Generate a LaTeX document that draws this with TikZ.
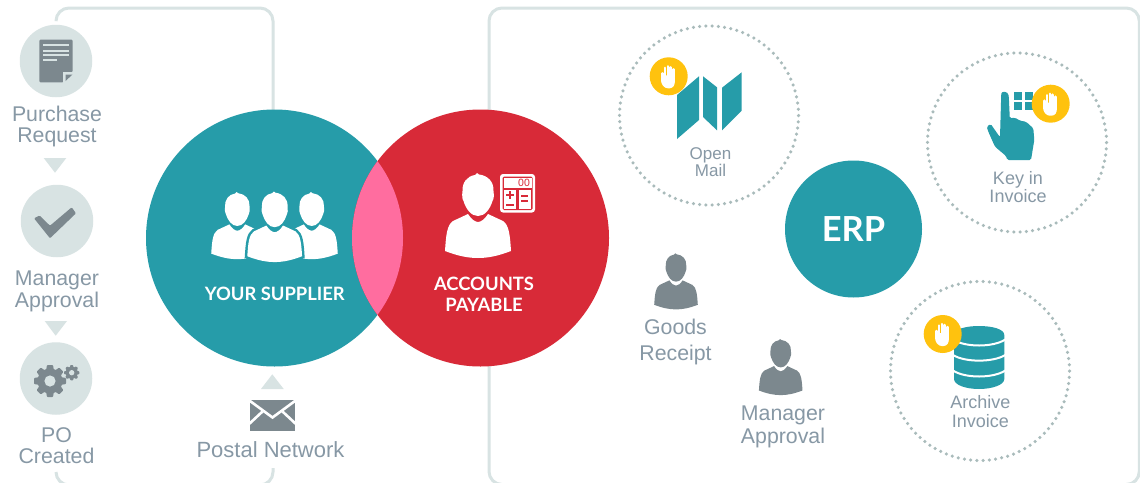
\documentclass[tikz,border=0pt]{standalone}
\usepackage{fontspec}
\setmainfont{Liberation Sans}
\newfontfamily\headfont{Lato}
\definecolor{tealc}{HTML}{269CA9}
\definecolor{redc}{HTML}{D82A38}
\definecolor{pinkc}{HTML}{FF6D9F}
\definecolor{lightc}{HTML}{D8E3E3}
\definecolor{greyc}{HTML}{7C888E}
\definecolor{textc}{HTML}{8798A5}
\definecolor{dotc}{HTML}{A9BBBB}
\definecolor{yellowc}{HTML}{FFC20E}
\newcommand{\personshape}{
  (-3,2) -- (-1,0) -- (1,1.5) .. controls (10,2.5) and (16,9) .. (15.5,18)
  .. controls (16,22) and (16,26) .. (14.5,28)
  .. controls (12,36) and (7,43) .. (0,43)
  .. controls (-7,43) and (-12,36) .. (-14.5,28)
  .. controls (-16,26) and (-16,22) .. (-15.5,18)
  .. controls (-16,10) and (-11,3) .. (-3,2) -- cycle
  (-10,41) .. controls (-7,46) and (-3,49) .. (0,49)
  .. controls (3,49) and (7,46) .. (10,41) -- (25,48)
  .. controls (31,52) and (32,62) .. (33,78)
  .. controls (20,83) and (10,85) .. (0,85)
  .. controls (-10,85) and (-20,83) .. (-33,78)
  .. controls (-32,62) and (-31,52) .. (-25,48) -- cycle
}
\newcommand{\gearicon}[3]{
  \begin{scope}[shift={(#1,#2)},scale=#3]
    \foreach \a in {0,45,...,315}{\fill[greyc,rotate=\a,rounded corners=0.8pt] (-3,-16) -- (3,-16) -- (4.2,-9) -- (-4.2,-9) -- cycle;}
    \fill[greyc] (0,0) circle[radius=12.5];
    \fill[lightc] (0,0) circle[radius=5.6];
  \end{scope}
}
\newcommand{\handicon}[2]{
  \begin{scope}[shift={(#1,#2)}]
    \fill[white,rounded corners=2.5pt] (-7.6,-1) -- (-7.6,7) -- (-3.5,12) -- (3.5,12) -- (6.2,8) -- (6.2,-1) -- cycle;
    \foreach \x/\t in {-3.7/-8.5,-0.9/-10,1.9/-9,4.9/-7,-6.4/-3}{\draw[white,line width=2.5pt,line cap=round] (\x,1) -- (\x,\t);}
  \end{scope}
}
\tikzset{
  x=1pt,y=-1pt,
  framerule/.style={draw=lightc,line width=3pt,rounded corners=13pt},
  stepdisc/.style={circle,fill=lightc,minimum size=72.5pt,inner sep=0pt},
  bigdisc/.style={circle,minimum size=257pt,inner sep=0pt},
  dotring/.style={circle,draw=dotc,line width=3.5pt,line cap=round,dash pattern=on 0pt off 6.248pt,minimum size=179pt,inner sep=0pt},
  badge/.style={circle,fill=yellowc,minimum size=38pt,inner sep=0pt},
  tri/.style={fill=lightc},
  lab/.style={text=textc,anchor=base,inner sep=0pt,font=\fontsize{21.3}{24}\selectfont},
  smalllab/.style={text=textc,anchor=base,inner sep=0pt,font=\fontsize{18}{20}\selectfont},
  headlab/.style={text=white,anchor=base,inner sep=0pt,font=\headfont\bfseries\fontsize{18.4}{20}\selectfont},
  tealshape/.style={fill=tealc}
}
\begin{document}
\begin{tikzpicture}
\useasboundingbox (0,0) rectangle (1140,482);
\clip (0,0) rectangle (1140,482);
\fill[white] (0,0) rectangle (1140,482);
% frames
\coordinate (ftl) at (56,20);
\coordinate (ftr) at (273,125);
\coordinate (fbl) at (56,472);
\coordinate (fbr) at (273,468);
\draw[framerule] (ftl) -- (56,8) -- (273,8) -- (ftr);
\draw[framerule] (fbl) -- (56,485) -- (273,485) -- (fbr);
\draw[framerule] (489,8) rectangle (1139.3,484.5);
% venn
\node[bigdisc,fill=tealc] (supplier) at (274.5,238) {};
\node[bigdisc,fill=redc] (payable) at (480.5,238) {};
\begin{scope}
  \clip (274.5,238) circle[radius=128.5];
  \fill[pinkc] (480.5,238) circle[radius=128.5];
\end{scope}
% step discs
\node[stepdisc] (pr) at (56,61) {};
\node[stepdisc] (ma) at (57,221) {};
\node[stepdisc] (po) at (56,378.5) {};
\fill[tri] (43.7,158) -- (66.3,158) -- (55,172.7) -- cycle;
\fill[tri] (44.7,321) -- (67,321) -- (55.7,335.7) -- cycle;
\fill[tri] (261,389) -- (283.7,389) -- (272.3,374.3) -- cycle;
% document icon
\fill[greyc,rounded corners=1.2pt] (39.3,39.7) -- (72.7,39.7) -- (72.7,71.5) -- (63.5,82.3) -- (39.3,82.3) -- cycle;
\foreach \yy/\xx in {45.3/69,50.7/69,55.3/69,60.3/56.7}{\draw[lightc,line width=1.8pt] (43.3,\yy) -- (\xx,\yy);}
\fill[lightc] (63,82.8) -- (63,72) -- (73.2,72) -- (73.2,82.8) -- cycle;
\fill[greyc] (65.5,81) -- (65.5,74.5) -- (72.5,74.5) -- cycle;
% check icon
\fill[greyc,rounded corners=1pt] (34,218.3) -- (39.5,215.5) -- (50,225.7) -- (71.7,207.3) -- (76,213.3) -- (50,238.3) -- cycle;
% gears
\gearicon{50}{381}{1}
\gearicon{71.7}{372.7}{0.48}
% envelope
\fill[greyc] (250,400) rectangle (295,431);
\draw[white,line width=2.6pt] (248,399.5) -- (272.5,417.5) -- (297,399.5);
\draw[white,line width=2.6pt] (248,425) -- (262.5,411.5);
\draw[white,line width=2.6pt] (297,425) -- (282.5,411.5);
% supplier persons
\fill[white,shift={(237.3,192)},scale=0.79] \personshape;
\fill[white,shift={(311.7,192)},scale=0.79] \personshape;
\fill[white,shift={(274.7,191.5)},scale=0.83,preaction={draw=tealc,line width=5pt}] \personshape;
% payable person and calculator
\fill[white,shift={(478,173)}] \personshape;
\fill[white,rounded corners=3pt] (500,174) rectangle (535,212.5);
\fill[redc,rounded corners=1.5pt] (502.5,176.5) rectangle (532.5,210);
\fill[white] (504,178) rectangle (531.5,187.5);
\fill[white] (504,190) rectangle (516,209);
\fill[white] (518.5,190) rectangle (531,209);
\node[inner sep=0pt,text=redc,font=\fontsize{10.5}{10}\selectfont] (calcdigits) at (524,183.2) {00};
\draw[redc,line width=2pt] (506,195) -- (514,195) (510,191) -- (510,199);
\draw[redc,line width=2pt] (506,204.5) -- (514,204.5);
\draw[redc,line width=2pt] (521,196) -- (528,196) (521,200.7) -- (528,200.7);
% text in venn
\node[headlab] (t1) at (274.8,300.7) {YOUR SUPPLIER};
\node[headlab] (t2) at (484,290) {ACCOUNTS};
\node[headlab] (t3) at (484,311.7) {PAYABLE};
% left labels
\node[lab] (l1) at (57,121.5) {Purchase};
\node[lab] (l2) at (57,142.5) {Request};
\node[lab] (l3) at (57,285.7) {Manager};
\node[lab] (l4) at (57,307.5) {Approval};
\node[lab] (l5) at (56.5,442.4) {PO};
\node[lab] (l6) at (56.5,463.4) {Created};
\node[lab,font=\fontsize{22}{24}\selectfont] (l7) at (270.5,457.5) {Postal Network};
% right part
\node[dotring] (rmail) at (709,115.5) {};
\node[dotring] (rkey) at (1017,142.5) {};
\node[dotring] (rarc) at (980,371) {};
\node[circle,fill=tealc,minimum size=137pt,inner sep=0pt,text=white,font=\headfont\bfseries\fontsize{34.5}{36}\selectfont] (erp) at (853.5,229) {ERP};
% map icon
\fill[tealshape] (677,95) -- (699,76.3) -- (699,120) -- (677,139) -- cycle;
\fill[tealshape] (703,76.3) -- (717,87.3) -- (717,130.3) -- (703,117) -- cycle;
\fill[tealshape] (722,87.7) -- (741.7,72.3) -- (741.7,110.7) -- (722,130.3) -- cycle;
\node[badge] (b1) at (668.7,76.3) {};
\handicon{668.7}{76.3}
% pointer icon
\fill[tealshape,rounded corners=1.5pt] (1001.2,95) .. controls (1001.5,91) and (1008,91) .. (1008.8,96.7) -- (1009.8,118.3) -- (1015,117.7) -- (1020,120.7) -- (1026,121.7) -- (1033.3,128.3) -- (1034.3,140) -- (1031,160) -- (1007.3,160) -- (1006,156) -- (995,146.7) -- (988.3,131.7) -- (986.7,126.7) -- (990.7,124) -- (1000,137.3) -- cycle;
\fill[tealshape] (1014,92.3) rectangle (1022,100);
\fill[tealshape] (1025,92.3) rectangle (1033,100);
\fill[tealshape] (1014,102.3) rectangle (1022,110);
\fill[tealshape] (1025,102.3) rectangle (1033,110);
\node[badge] (b2) at (1050.7,103.7) {};
\handicon{1050.7}{103.7}
% database icon
\fill[tealshape] (954,335) .. controls (954,329) and (966,326) .. (979,326) .. controls (992,326) and (1004.3,329) .. (1004.3,335) -- (1004.3,379) .. controls (1004.3,385) and (992,389) .. (979,389) .. controls (966,389) and (954,385) .. (954,379) -- cycle;
\foreach \ya/\yb in {339.5/347.5,355/362.5,370.5/378.5}{\draw[white,line width=2pt] (953,\ya) .. controls (965,\yb) and (993,\yb) .. (1005.3,\ya);}
\node[badge] (b3) at (942.7,334) {};
\handicon{942.7}{334}
% persons on right
\fill[greyc,shift={(676,253.3)},scale=0.66] \personshape;
\fill[greyc,shift={(780.7,339)},scale=0.66] \personshape;
\node[lab] (g1) at (675.5,334.2) {Goods};
\node[lab] (g2) at (675.5,360.5) {Receipt};
\node[lab] (m1) at (783,420.5) {Manager};
\node[lab] (m2) at (783,443.5) {Approval};
\node[smalllab,font=\fontsize{17}{20}\selectfont] (s1) at (710.5,159) {Open};
\node[smalllab,font=\fontsize{17}{20}\selectfont] (s2) at (710.5,176.7) {Mail};
\node[smalllab] (s3) at (1018,184) {Key in};
\node[smalllab] (s4) at (1018,202.3) {Invoice};
\node[smalllab] (s5) at (980.3,408.3) {Archive};
\node[smalllab] (s6) at (980.3,427) {Invoice};
\end{tikzpicture}
\end{document}
